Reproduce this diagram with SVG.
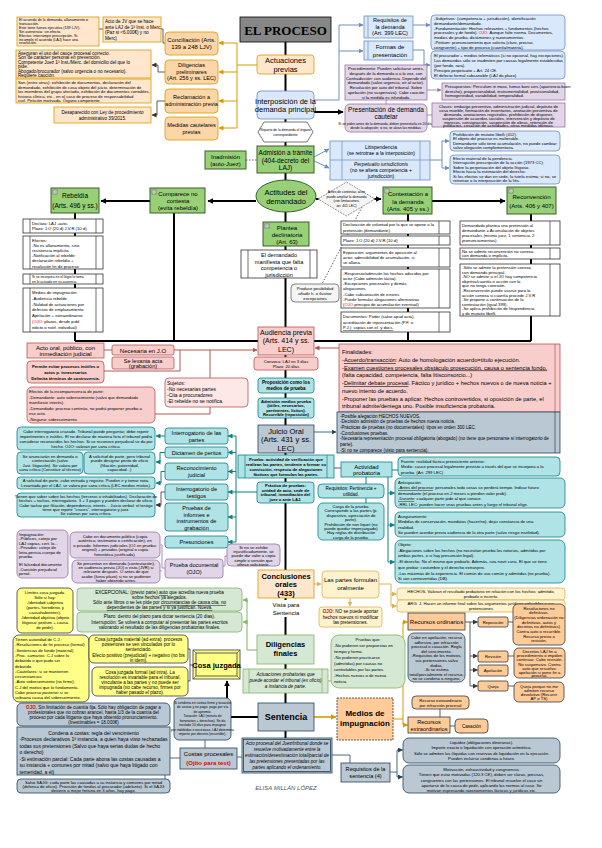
<svg xmlns="http://www.w3.org/2000/svg" width="602" height="848" viewBox="0 0 602 848">
<defs>
<style>
text{font-family:"Liberation Sans",Arial,Helvetica,sans-serif;fill:#000}
.m{text-anchor:middle}.b{font-weight:bold}.i{font-style:italic}.r{fill:#e60000}.u{text-decoration:underline}
.z3{font-size:3.4px}.z4{font-size:4.2px}.z45{font-size:4.6px}.z5{font-size:5px}.z55{font-size:5.6px}.z6{font-size:6px}.z65{font-size:6.5px}.z7{font-size:7px}.z75{font-size:7.5px}.z8{font-size:8px}.z9{font-size:9px}
rect,polygon,ellipse{stroke-width:.8}
.or{fill:#ffe6cc;stroke:#d79b00}.or2{fill:#fcd6a6;stroke:#d79b00}
.bl{fill:#dae8fc;stroke:#6c8ebf}.pu{fill:#e1d5e7;stroke:#9673a6}
.gr{fill:#97d077;stroke:#3a5f2b;stroke-width:1}.pk{fill:#f8cecc;stroke:#b85450}
.cy{fill:#b0e3e6;stroke:#0e8088}.gb{fill:#bac8d3;stroke:#23445d}
.lg{fill:#d5e8d4;stroke:#82b366}.ly{fill:#fff2cc;stroke:#d6b656}
.yy{fill:#ffff88;stroke:#36393d}.oo{fill:#ffcc99;stroke:#36393d}
.wh{fill:#fff;stroke:#333}.gy{fill:#f5f5f5;stroke:#666}
.sp{fill:none;stroke:#000;stroke-width:2}
.lo{fill:none;stroke:#d79b00;stroke-width:1}
.lb{fill:none;stroke:#6c8ebf;stroke-width:1}
.lp{fill:none;stroke:#9673a6;stroke-width:.8}
.lgry{fill:none;stroke:#333;stroke-width:.8}
.lpk{fill:none;stroke:#b85450;stroke-width:1}
.lc{fill:none;stroke:#0e8088;stroke-width:1}
.lgb{fill:none;stroke:#23445d;stroke-width:.8}
.lgn{fill:none;stroke:#82b366;stroke-width:1}
.lgd{fill:none;stroke:#d6b656;stroke-width:1}
.ld{fill:none;stroke:#36393d;stroke-width:.8}
.dot{fill:none;stroke:#555;stroke-width:.9;stroke-dasharray:1.5 1.5}
.bar{stroke-width:.7}
</style>
<marker id="ak" viewBox="0 0 10 10" refX="9" refY="5" markerWidth="6" markerHeight="6" markerUnits="userSpaceOnUse" orient="auto"><path d="M0,0L10,5L0,10z" fill="#000"/></marker>
<marker id="ao" viewBox="0 0 10 10" refX="9" refY="5" markerWidth="5" markerHeight="5" markerUnits="userSpaceOnUse" orient="auto"><path d="M0,0L10,5L0,10z" fill="#d79b00"/></marker>
<marker id="ab" viewBox="0 0 10 10" refX="9" refY="5" markerWidth="5" markerHeight="5" markerUnits="userSpaceOnUse" orient="auto"><path d="M0,0L10,5L0,10z" fill="#6c8ebf"/></marker>
<marker id="ap" viewBox="0 0 10 10" refX="9" refY="5" markerWidth="4" markerHeight="4" markerUnits="userSpaceOnUse" orient="auto"><path d="M0,0L10,5L0,10z" fill="#9673a6"/></marker>
<marker id="ag" viewBox="0 0 10 10" refX="9" refY="5" markerWidth="5" markerHeight="5" markerUnits="userSpaceOnUse" orient="auto"><path d="M0,0L10,5L0,10z" fill="#333"/></marker>
<marker id="apk" viewBox="0 0 10 10" refX="9" refY="5" markerWidth="5" markerHeight="5" markerUnits="userSpaceOnUse" orient="auto"><path d="M0,0L10,5L0,10z" fill="#b85450"/></marker>
<marker id="ac" viewBox="0 0 10 10" refX="9" refY="5" markerWidth="5" markerHeight="5" markerUnits="userSpaceOnUse" orient="auto"><path d="M0,0L10,5L0,10z" fill="#0e8088"/></marker>
<marker id="agb" viewBox="0 0 10 10" refX="9" refY="5" markerWidth="5" markerHeight="5" markerUnits="userSpaceOnUse" orient="auto"><path d="M0,0L10,5L0,10z" fill="#23445d"/></marker>
<marker id="agn" viewBox="0 0 10 10" refX="9" refY="5" markerWidth="5" markerHeight="5" markerUnits="userSpaceOnUse" orient="auto"><path d="M0,0L10,5L0,10z" fill="#82b366"/></marker>
<marker id="agd" viewBox="0 0 10 10" refX="9" refY="5" markerWidth="5" markerHeight="5" markerUnits="userSpaceOnUse" orient="auto"><path d="M0,0L10,5L0,10z" fill="#d6b656"/></marker>
<marker id="ad" viewBox="0 0 10 10" refX="9" refY="5" markerWidth="5" markerHeight="5" markerUnits="userSpaceOnUse" orient="auto"><path d="M0,0L10,5L0,10z" fill="#36393d"/></marker>
<marker id="aG" viewBox="0 0 10 10" refX="9" refY="5" markerWidth="6" markerHeight="6" markerUnits="userSpaceOnUse" orient="auto"><path d="M0,0L10,5L0,10z" fill="#d79b00"/></marker>
<g id="ic"><rect x="0" y="0" width="4" height="4" fill="#e8e8e8" stroke="#777" stroke-width=".4"/><path d="M1,2H3" stroke="#555" stroke-width=".5"/></g>
</defs>
<rect x="0" y="0" width="602" height="848" fill="#fff"/>

<g id="connectors">
<path class="sp" d="M285.5,42V738"/>
<path class="sp" d="M75,341H531"/>
<path class="sp" d="M75,213V341M174,213V341M408,214V341M531,214V341"/>
<path class="sp" d="M256,201H208" marker-end="url(#ak)"/>
<path class="sp" d="M150,201H101" marker-end="url(#ak)"/>
<path class="sp" d="M316,199H381" marker-end="url(#ak)"/>
<path class="sp" d="M432,201H505" marker-end="url(#ak)"/>
<path class="sp" d="M314,112H343" marker-end="url(#ak)"/>
<path class="dot" d="M246,160H257"/>
<path class="lo" d="M257,65H237M237,43V128"/>
<path class="lo" d="M237,43H219" marker-end="url(#ao)"/>
<path class="lo" d="M237,72H219" marker-end="url(#ao)"/>
<path class="lo" d="M237,101H219" marker-end="url(#ao)"/>
<path class="lo" d="M237,128H219" marker-end="url(#ao)"/>
<path class="lgry" d="M99,29H103M165,43H163V29H161"/>
<path class="lgry" d="M165,72H158V65H152" marker-end="url(#ag)"/>
<path class="lgry" d="M165,101H157V115H152" marker-end="url(#ag)"/>
<path class="lb" d="M314,100H339M339,25V100"/>
<path class="lb" d="M339,25H363" marker-end="url(#ab)"/>
<path class="lb" d="M339,51H363" marker-end="url(#ab)"/>
<path class="lb" d="M413,25H430" marker-end="url(#ab)"/>
<path class="lb" d="M413,50H424V65H430" marker-end="url(#ab)"/>
<path class="lp" d="M386,100V104M427,115H432"/>
<path class="lp" d="M427,90H441" marker-end="url(#ap)"/>
<path class="lb" d="M314,157L329,149" marker-end="url(#ab)"/>
<path class="lb" d="M314,161L329,168" marker-end="url(#ab)"/>
<path class="lb" d="M430,160H442M442,141V168"/>
<path class="lb" d="M442,141H449" marker-end="url(#ab)"/>
<path class="lb" d="M442,168H449" marker-end="url(#ab)"/>
<path class="dot" d="M362,207L322,284"/>
<path class="lpk" d="M104,350H112M180,350V371H104M210,350V378M155,414H210V407"/>
<path class="lpk" d="M174,350H257" marker-end="url(#apk)"/>
<path class="lpk" d="M339,348H315" marker-end="url(#apk)"/>
<path class="lgb" d="M314,432H336" marker-end="url(#agb)"/>
<path class="lc" d="M257,492H236M236,436V542"/>
<path class="lc" d="M236,436H228" marker-end="url(#ac)"/>
<path class="lc" d="M236,452.5H228" marker-end="url(#ac)"/>
<path class="lc" d="M236,471.5H228" marker-end="url(#ac)"/>
<path class="lc" d="M236,492H228" marker-end="url(#ac)"/>
<path class="lc" d="M236,517H228" marker-end="url(#ac)"/>
<path class="lc" d="M236,542H228" marker-end="url(#ac)"/>
<path class="lgry" d="M334,468H341"/>
<path class="lc" d="M392,470H398M366,477V484M366,498V503M388,477V562"/>
<path class="lc" d="M388,493H394.5" marker-end="url(#ac)"/>
<path class="lc" d="M388,525H394.5" marker-end="url(#ac)"/>
<path class="lc" d="M388,562H394.5" marker-end="url(#ac)"/>
<path class="lc" d="M165,436H156" marker-end="url(#ac)"/>
<path class="lc" d="M165,452.5H160V462H156" marker-end="url(#ac)"/>
<path class="lc" d="M165,471.5H161V483H156" marker-end="url(#ac)"/>
<path class="lgry" d="M165,492H161V505H156" marker-end="url(#ag)"/>
<path class="lp" d="M165,568H162V545H160.5M162,571H160.5M223,566H225V556H227"/>
<path class="lgd" d="M314,584H321" marker-end="url(#agd)"/>
<path class="lgd" d="M350,598V606" marker-end="url(#agd)"/>
<path class="lgd" d="M379,584H391V594H396.5" marker-end="url(#agd)"/>
<path class="lgd" d="M391,594V606H396.5" marker-end="url(#agd)"/>
<path class="lgn" d="M257,650H247V600"/>
<path class="lgn" d="M247,600H243" marker-end="url(#agn)"/>
<path class="lgn" d="M247,622H243" marker-end="url(#agn)"/>
<path class="lgn" d="M328,681H331"/>
<path class="ld" d="M193,665H190V649H188M190,665V681H188"/>
<path class="sp" d="M258,717H231"/>
<path class="sp" d="M227,698V681" marker-end="url(#ak)"/>
<path d="M314,717H336" fill="none" stroke="#d79b00" stroke-width="1.6" marker-end="url(#aG)"/>
<path class="lo" d="M393,719H403V622"/>
<path class="lo" d="M403,622H407.5" marker-end="url(#ao)"/>
<path class="lo" d="M403,719V725H407.5" marker-end="url(#ao)"/>
<path class="ld" d="M465,622H470V686M508,622H513M508,656H514M508,686H514M440,709V717M450,726H455"/>
<path class="ld" d="M470,622H477.5" marker-end="url(#ad)"/>
<path class="ld" d="M470,656H477.5" marker-end="url(#ad)"/>
<path class="ld" d="M470,670H477.5" marker-end="url(#ad)"/>
<path class="ld" d="M470,686H477.5" marker-end="url(#ad)"/>
<path class="lgb" d="M237,757H242M205,748V740M180,758H170M165,775V779M332,755H350V763"/>
<path class="lgb" d="M390,772H397V750H402.5" marker-end="url(#agb)"/>
<path class="lgb" d="M397,772V777H402.5" marker-end="url(#agb)"/>
</g>

<g id="title"><rect x="240" y="17" width="91" height="25" fill="#878787" stroke="#000" stroke-width="1"/><text x="285.5" y="34.5" class="m b" style="font-family:'Liberation Serif','Times New Roman',serif;font-size:13px">EL PROCESO</text></g>

<g id="actuaciones-previas"><rect x="257" y="55" width="57" height="19" rx="3" class="or"/><text class="m z75"><tspan x="285.5" y="63">Actuaciones</tspan><tspan x="285.5" y="71.5">previas</tspan></text></g>

<g id="interposicion"><rect x="257" y="91" width="57" height="28" rx="4" class="bl"/><text class="m z75"><tspan x="285.5" y="103.5">Interposición de la</tspan><tspan x="285.5" y="112">demanda principal</tspan></text></g>

<g id="reparto"><polygon points="258,132 264,122 307,122 313,132 307,142 264,142" fill="#fff" stroke="#555"/><text class="m z3"><tspan x="285.5" y="131">Reparto de la demanda al órgano</tspan><tspan x="285.5" y="135.5">correspondiente</tspan></text></g>

<g id="admision"><rect x="257" y="146" width="57" height="27" class="gr"/><text class="m z65"><tspan x="285.5" y="155">Admisión a trámite</tspan><tspan x="285.5" y="162.5">(404-decreto del</tspan><tspan x="285.5" y="170">LAJ)</tspan></text></g>

<g id="inadmision"><rect x="205" y="151" width="41" height="18" class="gr"/><text class="m z6"><tspan x="225.5" y="158.5">Inadmisión</tspan><tspan x="225.5" y="165.5">(auto-Juez)</tspan></text></g>

<g id="requisitos-demanda"><rect x="364" y="16" width="49" height="22" class="bl"/><path d="M368,16V38" stroke="#6c8ebf" class="bar"/><text class="m z55"><tspan x="390" y="22">Requisitos de</tspan><tspan x="390" y="28.5">la demanda</tspan><tspan x="390" y="35">(Art. 399 LEC)</tspan></text></g>

<g id="formas"><rect x="364" y="41" width="49" height="19" class="bl"/><path d="M368,41V60" stroke="#6c8ebf" class="bar"/><text class="m z6"><tspan x="390" y="49">Formas de</tspan><tspan x="390" y="56.5">presentación</tspan></text></g>

<g id="subjetivos"><rect x="431" y="15" width="134" height="35" rx="4" class="bl"/><text class="z4"><tspan x="434" y="20">-Subjetivos: (competencia + jurisdicción), identificación</tspan><tspan x="434" y="24.8">demandante/demandado.</tspan><tspan x="434" y="29.6">-Fundamentación: Hechos relevantes + fundamentos (hechos</tspan><tspan x="434" y="34.4">procesales y de fondo). <tspan class="r">OJO</tspan>. Aunque falte norma. Documentos,</tspan><tspan x="434" y="39.2">medios de prueba, dictámenes y razonamientos.</tspan><tspan x="434" y="44">-Petitum: pronunciamiento que solicita (claro, preciso,</tspan><tspan x="434" y="48.8">congruente) + tipo de proceso (cuantía/materia).</tspan></text></g>

<g id="procurador"><rect x="431" y="51" width="134" height="28" rx="4" class="bl"/><text class="z4"><tspan x="434" y="56.5">El procurador + medios telemáticos (si no opcional, hay excepciones).</tspan><tspan x="434" y="61.5">Las demandas sólo se inadmiten por causas legalmente establecidas</tspan><tspan x="434" y="66.5">(por fondo, rara).</tspan><tspan x="434" y="71.5">Principio perpetuatio + Art. 24 CE.</tspan><tspan x="434" y="76.5">El defecto formal subsanable (LAJ da plazo).</tspan></text></g>

<g id="procedimiento-cautelar"><rect x="345" y="65" width="82" height="35" class="pu"/><text class="m z4"><tspan x="386" y="70">Procedimiento: Pueden solicitarse antes,</tspan><tspan x="386" y="74.8">después de la demanda o a la vez, con</tspan><tspan x="386" y="79.6">Contradicción: con audiencia. Depende del</tspan><tspan x="386" y="84.4">demandado (salvo urgencia, oír al actor).</tspan><tspan x="386" y="89.2">Resolución por auto del tribunal. Sobre</tspan><tspan x="386" y="94">apelación (no suspensiva). Cabe caución</tspan><tspan x="386" y="98.8">si la medida es infundada.</tspan></text></g>

<g id="demanda-cautelar"><rect x="345" y="104" width="82" height="28" rx="5" class="pu"/><text class="m z65"><tspan x="386" y="112">Presentación de demanda</tspan><tspan x="386" y="119">cautelar</tspan></text><text class="m z3"><tspan x="386" y="124.5">Si se piden antes de la demanda, deben presentarla en 20 días</tspan><tspan x="386" y="129">desde la adopción; si no, se alzan las medidas.</tspan></text></g>

<g id="presupuestos"><rect x="442" y="83" width="123" height="17" class="pu"/><text class="z4"><tspan x="445" y="88">Presupuestos: Periculum in mora, fumus boni iuris (apariencia buen</tspan><tspan x="445" y="92.5">derecho), proporcionalidad, instrumentalidad, provisionalidad,</tspan><tspan x="445" y="97">homogeneidad, variabilidad, temporalidad.</tspan></text></g>

<g id="clases"><rect x="432" y="103" width="133" height="24" class="pu"/><text class="m z4"><tspan x="498.5" y="107.5">Clases: embargo preventivo, administración judicial, depósito de</tspan><tspan x="498.5" y="111.5">cosa mueble, formación de inventarios, anotación preventiva de</tspan><tspan x="498.5" y="115.5">demanda, anotaciones registrales, prohibición de disponer,</tspan><tspan x="498.5" y="119.5">suspensión de acuerdos sociales, intervención y depósito de</tspan><tspan x="498.5" y="123.5">ingresos, consignación, suspensión de obras, retención de</tspan><tspan x="498.5" y="127">productos, cesación de actividades, otras medidas idóneas.</tspan></text></g>

<g id="litispendencia"><rect x="330" y="141" width="100" height="39" class="bl"/><path d="M342,141V180M420,141V180M330,160H430" stroke="#6c8ebf" class="bar"/><text class="m z5"><tspan x="381" y="148.5">Litispendencia</tspan><tspan x="381" y="155">(se retrotrae a la interposición)</tspan></text><text class="m z5"><tspan x="381" y="166" class="i">Perpetuatio iurisdictionis</tspan><tspan x="381" y="172">(no se altera competencia +</tspan><tspan x="381" y="178">jurisdicción)</tspan></text></g>

<g id="mutatio"><rect x="450" y="131" width="110" height="20" rx="4" class="bl"/><text class="z4"><tspan x="453" y="136">Prohibición de mutatio libelli (412).</tspan><tspan x="453" y="140.4">El objeto del proceso es inalterable.</tspan><tspan x="453" y="144.8">Demandante sólo tiene acumulación, no puede cambiar</tspan><tspan x="453" y="149.2">salvo alegación complementaria.</tspan></text></g>

<g id="efecto-material"><rect x="450" y="155" width="110" height="29" rx="4" class="bl"/><text class="z4"><tspan x="453" y="160">Efecto material de la pendencia.</tspan><tspan x="453" y="164.4">Interrupción prescripción de la acción (1973 CC).</tspan><tspan x="453" y="168.8">Sobre la perpetuación del objeto litigioso.</tspan><tspan x="453" y="173.2">Efecto hacia la estimación del derecho.</tspan><tspan x="453" y="177.6">Si los efectos se dan en sede, la tutela estima; si no, se</tspan><tspan x="453" y="182">retrotrae a la interposición de la litis.</tspan></text></g>

<g id="conciliacion"><rect x="165" y="32" width="53" height="23" rx="4" class="or2"/><text class="m z6"><tspan x="191.5" y="41.5">Conciliación (Arts.</tspan><tspan x="191.5" y="49">139 a 248 LJV)</tspan></text></g>
<g id="diligencias-preliminares"><rect x="165" y="60" width="53" height="24" rx="4" class="or2"/><text class="m z55"><tspan x="191.5" y="67">Diligencias</tspan><tspan x="191.5" y="73.5">preliminares</tspan><tspan x="191.5" y="80">(Art. 256 y ss. LEC)</tspan></text></g>
<g id="reclamacion"><rect x="165" y="89" width="53" height="24" rx="4" class="or2"/><text class="m z55"><tspan x="191.5" y="99">Reclamación a</tspan><tspan x="191.5" y="106">administración previa</tspan></text></g>
<g id="medidas-previas"><rect x="165" y="117" width="53" height="23" rx="4" class="or2"/><text class="m z55"><tspan x="191.5" y="127">Medidas cautelares</tspan><tspan x="191.5" y="134">previas</tspan></text></g>

<g id="acuerdo"><rect x="17" y="17" width="82" height="29" class="or"/><text style="font-size:3.7px"><tspan x="19" y="21">El acuerdo de la demanda, allanamiento o</tspan><tspan x="19" y="24.9">transacción.</tspan><tspan x="19" y="28.8">Este tiene fuerza ejecutiva (139 LJV).</tspan><tspan x="19" y="32.7">Sin avenencia: sin efecto.</tspan><tspan x="19" y="36.6">Efectos: interrumpe prescripción. Si</tspan><tspan x="19" y="40.5">incumple el acuerdo (LAJ) hace una</tspan><tspan x="19" y="44.4">resolución.</tspan></text></g>
<g id="acto-jv"><rect x="103" y="17" width="58" height="25" class="or"/><text class="z45"><tspan x="105" y="23">Acto de JV que se hace</tspan><tspan x="105" y="28.5">ante LAJ de 1ª Inst. o Merc.</tspan><tspan x="105" y="34">(Paz si &lt;6.000€) y no</tspan><tspan x="105" y="39.5">Merc)</tspan></text></g>
<g id="aseguran"><rect x="16" y="50" width="135" height="28" class="or"/><text class="z45"><tspan x="18" y="55">Aseguran el uso del cauce procesal correcto.</tspan><tspan x="18" y="59.4">Son de carácter personal en prevención.</tspan><tspan x="18" y="63.8">Competente Juez 1ª Inst./Merc. del domicilio del que lo</tspan><tspan x="18" y="68.2">pide.</tspan><tspan x="18" y="72.6">Abogado/procurador (salvo urgencia o no necesario).</tspan><tspan x="18" y="77">Requiere caución.</tspan></text></g>
<g id="son-entre-otras"><rect x="16" y="79" width="135" height="24" class="or"/><text class="z4"><tspan x="18" y="84">Son (entre otras): exhibición de documentos, declaración del</tspan><tspan x="18" y="88.5">demandado, exhibición de cosa objeto del juicio, determinación de</tspan><tspan x="18" y="93">los miembros del grupo afectado, exhibición de documentos contables,</tspan><tspan x="18" y="97.5">historia clínica, etc., en el caso de proceso de responsabilidad</tspan><tspan x="18" y="102">civil. Petición motivada. Órgano competente.</tspan></text></g>
<g id="desaparecido"><rect x="54" y="107" width="97" height="16" class="or"/><text class="m z45"><tspan x="102.5" y="113.5">Desaparecido con Ley de procedimiento</tspan><tspan x="102.5" y="119.5">administrativo 39/2015.</tspan></text></g>

<g id="actitudes"><ellipse cx="286" cy="196" rx="30" ry="16" class="gr"/><text class="m z75"><tspan x="286" y="194.5">Actitudes del</tspan><tspan x="286" y="204">demandado</tspan></text></g>

<g id="comparece"><rect x="150" y="188" width="55" height="25" class="gr"/><use href="#ic" x="152" y="190"/><text class="m z6"><tspan x="178" y="196">Comparece no</tspan><tspan x="178" y="203">contesta</tspan><tspan x="178" y="210">(evita rebeldía)</tspan></text></g>
<g id="rebeldia"><rect x="51" y="188" width="48" height="25" class="gr"/><use href="#ic" x="53" y="190"/><text class="m z65"><tspan x="75" y="198">Rebeldía</tspan><tspan x="75" y="207.5">(Arts. 496 y ss.)</tspan></text></g>

<g id="ampliar"><polygon points="318,199 346.5,182 375,199 346.5,216" fill="#f5f5f5" stroke="#777" stroke-dasharray="2 1"/><text class="m z3"><tspan x="346.5" y="193">Antes de contestar, actor</tspan><tspan x="346.5" y="197.5">puede ampliar la demanda</tspan><tspan x="346.5" y="202">(con limitaciones,</tspan><tspan x="346.5" y="206.5">art. 401 LEC)</tspan></text></g>

<g id="contestacion"><rect x="383" y="187" width="49" height="27" class="gr"/><use href="#ic" x="385" y="189"/><text class="m z6"><tspan x="408" y="196">Contestación a</tspan><tspan x="408" y="203.5">la demanda</tspan><tspan x="408" y="211">(Arts. 405 y ss.)</tspan></text></g>
<g id="reconvencion"><rect x="507" y="187" width="49" height="27" class="gr"/><use href="#ic" x="509" y="189"/><text class="m z6"><tspan x="531.5" y="198.5">Reconvención</tspan><tspan x="531.5" y="207.5">(Arts. 406 y 407)</tspan></text></g>

<g id="declinatoria"><rect x="263" y="222" width="46" height="24" class="gr"/><use href="#ic" x="265" y="224"/><text class="m z6"><tspan x="287" y="229.5">Plantea</tspan><tspan x="287" y="236.5">declinatoria</tspan><tspan x="287" y="243.5">(Art. 63)</tspan></text></g>
<g id="falta-competencia"><rect x="241" y="250" width="76" height="28" class="wh"/><path d="M248,250V278M310,250V278" stroke="#333" class="bar"/><text class="m z55"><tspan x="279" y="257">El demandado</tspan><tspan x="279" y="263.5">manifiesta que falta</tspan><tspan x="279" y="270">competencia o</tspan><tspan x="279" y="276.5">jurisdicción</tspan></text></g>
<g id="produce"><rect x="291" y="284" width="48" height="18" rx="4" class="gy"/><text class="m z4"><tspan x="315" y="290">Produce posibilidad</tspan><tspan x="315" y="295">añadir h. o ilustrar</tspan><tspan x="315" y="300">excepciones</tspan></text></g>

<g id="rebeldia-declara"><rect x="23" y="219" width="80" height="14" class="wh"/><path d="M30,219V233M96,219V233" stroke="#333" class="bar"/><text class="z4"><tspan x="32" y="224.5">Declara: LAJ -auto-</tspan><tspan x="32" y="230">Plazo: J.O (20 d) J.V.R (10 d)</tspan></text></g>
<g id="rebeldia-efectos"><rect x="23" y="236" width="80" height="33" class="wh"/><path d="M30,236V269M96,236V269" stroke="#333" class="bar"/><text class="z4"><tspan x="32" y="241.5">Efectos:</tspan><tspan x="32" y="246.7">-No es allanamiento, sino</tspan><tspan x="32" y="251.9">resistencia implícita</tspan><tspan x="32" y="257.1">-Notificación al rebelde:</tspan><tspan x="32" y="262.3">declaración rebeldía +</tspan><tspan x="32" y="267.5">resolución fin de proceso</tspan></text></g>
<g id="rebeldia-incorpora"><rect x="23" y="274" width="80" height="10" class="wh"/><path d="M30,274V284M96,274V284" stroke="#333" class="bar"/><text class="z3"><tspan x="32" y="278.2">Si se incorpora en el litigio lo toma</tspan><tspan x="32" y="282.6">en lo actuado en su ausencia.</tspan></text></g>
<g id="rebeldia-medios"><rect x="23" y="288" width="80" height="44" class="wh"/><path d="M30,288V332M96,288V332" stroke="#333" class="bar"/><text class="z4"><tspan x="32" y="294">Medios de impugnación:</tspan><tspan x="32" y="299.8">-Audiencia rebelde</tspan><tspan x="32" y="305.6">-Nulidad de actuaciones por</tspan><tspan x="32" y="311.4">defectos de emplazamiento.</tspan><tspan x="32" y="317.2">Apelación + extraordinarios</tspan><tspan x="32" y="323"><tspan class="r">(OJO</tspan>: plazos, desde publ.</tspan><tspan x="32" y="328.8">edicto o notif. individual)</tspan></text></g>

<g id="contestacion-1"><rect x="341" y="221" width="109" height="13" class="wh"/><path d="M439,221V234" stroke="#333" class="bar"/><text class="z4"><tspan x="343" y="226">Declaración de voluntad por la que se opone a la</tspan><tspan x="343" y="231.5">pretensión (demandante).</tspan></text></g>
<g id="contestacion-2"><rect x="341" y="236" width="109" height="9" class="wh"/><path d="M439,236V245" stroke="#333" class="bar"/><text class="z4"><tspan x="343" y="242">Plazo: J.O (20 d) J.V.R (10 d)</tspan></text></g>
<g id="contestacion-3"><rect x="341" y="248" width="109" height="19" class="wh"/><path d="M439,248V267" stroke="#333" class="bar"/><text class="z4"><tspan x="343" y="253.5">Exposición: argumentos de oposición al</tspan><tspan x="343" y="258.8">actor, admisibilidad de acumulación, si</tspan><tspan x="343" y="264.1">se allana.</tspan></text></g>
<g id="contestacion-4"><rect x="341" y="269" width="109" height="39" class="wh"/><path d="M439,269V308" stroke="#333" class="bar"/><text class="z4"><tspan x="343" y="274.5">-Respuesta/admisión los hechos aducidos por</tspan><tspan x="343" y="279.8">actor (Cabe admisión tácita).</tspan><tspan x="343" y="285.1">-Excepciones procesales y demás</tspan><tspan x="343" y="290.4">alegaciones.</tspan><tspan x="343" y="295.7">-Cabe subsanación de errores</tspan><tspan x="343" y="301">-Puede formular alegaciones alternativas</tspan><tspan x="343" y="306.3">(<tspan class="r">OJO</tspan> principio de acumulación eventual)</tspan></text></g>
<g id="contestacion-5"><rect x="341" y="312" width="109" height="20" class="wh"/><path d="M439,312V332" stroke="#333" class="bar"/><text class="z4"><tspan x="343" y="318">Documentos: Poder (salvo apud acta),</tspan><tspan x="343" y="323.5">acreditación de representación (P.F. o</tspan><tspan x="343" y="329" class="u">P.J.); copias con el. y docs.</tspan></text></g>

<g id="reconvencion-1"><rect x="460" y="221" width="100" height="24" class="wh"/><path d="M550,221V245" stroke="#333" class="bar"/><text class="z4"><tspan x="462" y="227">Demandado plantea una pretensión al</tspan><tspan x="462" y="232">demandante = Acumulación de objetos</tspan><tspan x="462" y="237">procesales (mismo juez, 1 sentencia, 2</tspan><tspan x="462" y="242">pronunciamientos).</tspan></text></g>
<g id="reconvencion-2"><rect x="460" y="248" width="100" height="11" class="wh"/><path d="M550,248V259" stroke="#333" class="bar"/><text class="z4"><tspan x="462" y="252.7">No se admite reconvención no conexa</tspan><tspan x="462" y="257.4">con demanda o implícita.</tspan></text></g>
<g id="reconvencion-3"><rect x="460" y="264" width="100" height="52" class="wh"/><path d="M550,264V316" stroke="#333" class="bar"/><text class="z4"><tspan x="462" y="269">-Sólo se admite la pretensión conexa</tspan><tspan x="462" y="273.6">con demanda principal.</tspan><tspan x="462" y="278.2">-NO se admite si el JO hay competencia</tspan><tspan x="462" y="282.8">objetiva/cuantía o acción con la</tspan><tspan x="462" y="287.4">que no tenga conexión.</tspan><tspan x="462" y="292">-Reconvención puede usarse para la</tspan><tspan x="462" y="296.6">acción conexa si cuantía procede J.V.R</tspan><tspan x="462" y="301.2">-Se propone a continuación de la</tspan><tspan x="462" y="305.8">contestación (igual 399).</tspan><tspan x="462" y="310.4">-Se aplica prohibición de litispendencia</tspan><tspan x="462" y="315">y de mutatio libelli.</tspan></text></g>

<g id="audiencia-previa"><rect x="258" y="327" width="56" height="28" class="pk"/><text class="m z7"><tspan x="286" y="334.5">Audiencia previa</tspan><tspan x="286" y="343">(Arts. 414 y ss.</tspan><tspan x="286" y="351.5">LEC)</tspan></text></g>
<g id="convoca"><rect x="254" y="357" width="64" height="13" rx="3" class="pk"/><text class="m z4"><tspan x="286" y="362.5">Convoca: LAJ en 3 días</tspan><tspan x="286" y="368">Plazo: 20 días</tspan></text></g>
<g id="acto-oral"><rect x="27" y="343" width="77" height="15" class="pk"/><text class="m z6"><tspan x="65.5" y="349.5">Acto oral, público, con</tspan><tspan x="65.5" y="356">inmediación judicial</tspan></text></g>
<g id="necesaria"><rect x="112" y="345" width="62" height="10" rx="2" class="pk"/><text class="m z6"><tspan x="143" y="352.5">Necesaria en J.O</tspan></text></g>
<g id="levanta-acta"><rect x="112" y="357" width="62" height="12" rx="2" class="pk"/><text class="m z55"><tspan x="143" y="362.5">Se levanta acta</tspan><tspan x="143" y="368">(grabación)</tspan></text></g>
<g id="permite"><rect x="27" y="361" width="77" height="22" rx="4" class="pk"/><text class="m z4 b"><tspan x="65.5" y="368">Permite evitar procesos inútiles o</tspan><tspan x="65.5" y="373.5">actos p. innecesarios</tspan><tspan x="65.5" y="379.5">Delimita términos de controversia.</tspan></text></g>
<g id="sujetos"><rect x="165" y="378" width="83" height="29" rx="4" fill="#fde8e7" stroke="#b85450"/><text class="z5"><tspan x="167" y="384.5">Sujetos:</tspan><tspan x="167" y="390.8">-No necesarias partes</tspan><tspan x="167" y="397.1">-Cita a procuradores</tspan><tspan x="167" y="403.4">-El rebelde no se notifica.</tspan></text></g>
<g id="incomparecencia"><rect x="27" y="387" width="128" height="36" rx="5" class="pk"/><text class="z4"><tspan x="29" y="393">Efectos de la incomparecencia de parte:</tspan><tspan x="29" y="398.5">-Demandante: auto sobreseimiento (salvo que demandado</tspan><tspan x="29" y="404">manifieste interés).</tspan><tspan x="29" y="409.5">-Demandado: proceso continúa, no podrá proponer prueba a</tspan><tspan x="29" y="415">ese acto.</tspan><tspan x="29" y="420.5">-Ninguno: sobreseimiento</tspan></text></g>

<g id="finalidades"><rect x="339" y="344" width="221" height="68" class="pk"/><path d="M555,344V412" stroke="#b85450" class="bar"/><text style="font-size:5.7px"><tspan x="342" y="354">Finalidades:</tspan><tspan x="342" y="362">-<tspan class="u">Acuerdo/transacción</tspan>: Auto de homologación acuerdo=título ejecución.</tspan><tspan x="342" y="369.5">-<tspan class="u">Examen cuestiones procesales obstáculo prosecución, causa o sentencia fondo.</tspan></tspan><tspan x="342" y="377">(falta capacidad, competencia, falta litisconsorcio...)</tspan><tspan x="342" y="385">-<tspan class="u">Delimitar debate procesal</tspan>. Fáctico y jurídico + hechos nuevos o de nueva noticia +</tspan><tspan x="342" y="392.5">nuevo intento de acuerdo.</tspan><tspan x="342" y="400.5">-Proponer las pruebas a aplicar. Hechos controvertidos, si oposición de parte, el</tspan><tspan x="342" y="408">tribunal admite/deniega uno. Posible insuficiencia probatoria.</tspan></text></g>

<g id="proposicion"><rect x="258" y="378" width="56" height="15" rx="3" class="cy"/><text class="m z45 b"><tspan x="286" y="384">Proposición como los</tspan><tspan x="286" y="390">medios de prueba</tspan></text></g>
<g id="admision-medios"><rect x="258" y="398" width="56" height="20" rx="3" class="cy"/><text class="m z4 b"><tspan x="286" y="402.8">Admisión medios prueba</tspan><tspan x="286" y="407.2">(útiles, necesarios,</tspan><tspan x="286" y="411.6">pertinentes, lícitos).</tspan><tspan x="286" y="416">Recurrible (reposición)</tspan></text></g>

<g id="juicio-oral"><rect x="258" y="425" width="56" height="28" class="gb"/><text class="m z75"><tspan x="286" y="433.5">Juicio Oral</tspan><tspan x="286" y="442">(Arts. 431 y ss.</tspan><tspan x="286" y="450.5">LEC)</tspan></text></g>
<g id="juicio-oral-detalle"><rect x="337" y="412" width="223" height="41" class="gb"/><path d="M555,412V453" stroke="#23445d" class="bar"/><text class="z45"><tspan x="340" y="417.5">-Posible alegación HECHOS NUEVOS.</tspan><tspan x="340" y="423.2">-Decisión admisión de pruebas de hechos nueva noticia.</tspan><tspan x="340" y="428.9">-Prácticas de pruebas (no documentales): tipos en orden 300 LEC.</tspan><tspan x="340" y="434.6">-Conclusiones pruebas.</tspan><tspan x="340" y="440.3">-Necesaria representación procesal obligatoria (abogado) (no tiene que personarse si interrogatorio de</tspan><tspan x="340" y="446">parte).</tspan><tspan x="340" y="451.7">-Si no se comparece (visto para sentencia).</tspan></text></g>

<g id="prueba"><rect x="238" y="455" width="96" height="23" class="cy"/><path d="M245,455V478M327,455V478" stroke="#0e8088" class="bar"/><text class="m z4 b"><tspan x="286" y="460.5">Prueba: actividad de verificación que</tspan><tspan x="286" y="465.5">realizan las partes, tendente a formar su</tspan><tspan x="286" y="470.5">convicción, respecto de alegaciones</tspan><tspan x="286" y="475.5">fácticas que formulan las partes.</tspan></text></g>
<g id="practica"><rect x="257" y="482" width="57" height="21" rx="3" class="cy"/><text class="m z4 b"><tspan x="285.5" y="487">Práctica de pruebas:</tspan><tspan x="285.5" y="491.5">unidad de acto, sede de</tspan><tspan x="285.5" y="496">tribunal, inmediación del</tspan><tspan x="285.5" y="500.5">juez o ante LAJ.</tspan></text></g>
<g id="actividad-probatoria"><rect x="341" y="462" width="51" height="15" class="cy"/><text class="m z6"><tspan x="366.5" y="468.5">Actividad</tspan><tspan x="366.5" y="475">probatoria</tspan></text></g>
<g id="requisitos-prueba"><rect x="318" y="484" width="66" height="14" rx="4" class="cy"/><text class="m z45"><tspan x="351" y="490">Requisitos: Pertinencia +</tspan><tspan x="351" y="496">utilidad.</tspan></text></g>
<g id="carga"><rect x="318" y="503" width="66" height="37" rx="5" class="cy"/><text class="m z4"><tspan x="351" y="508">Carga de la prueba.</tspan><tspan x="351" y="512.4">Corresponde a las partes (p.</tspan><tspan x="351" y="516.8">dispositivo, apreciación de</tspan><tspan x="351" y="521.2">parte).</tspan><tspan x="351" y="525.6">Prohibición de non liquet (no</tspan><tspan x="351" y="530">puede quedar imprejuzgado)</tspan><tspan x="351" y="534.4">Hay reglas de distribución</tspan><tspan x="351" y="538.8">carga de la prueba.</tspan></text></g>
<g id="fuente"><rect x="398" y="457" width="162" height="19" rx="4" class="cy"/><text class="z4"><tspan x="401" y="462.5">Fuente: realidad fáctica preexistente anterior.</tspan><tspan x="401" y="468">Medio: cauce procesal legalmente previsto a través del que se incorpora a la</tspan><tspan x="401" y="473.5">prueba. (Art. 299 LEC)</tspan></text></g>
<g id="anticipacion"><rect x="395" y="478" width="170" height="30" rx="5" class="cy"/><text class="z4"><tspan x="398" y="483.5">Anticipación:</tspan><tspan x="398" y="489"><tspan class="u">-Antes del proceso</tspan>: personales todo cosas se perderá tiempo. Indicar futuro</tspan><tspan x="398" y="494.5">demandante (el proceso en 2 meses o pierden valor prob).</tspan><tspan x="398" y="500"><tspan class="u">-Durante</tspan>: cualquier parte pide al que conoce.</tspan><tspan x="398" y="505.5">-RRL LEC: pueden hacer unas pruebas antes y luego el tribunal elige.</tspan></text></g>
<g id="aseguramiento"><rect x="395" y="512" width="170" height="25" rx="5" class="cy"/><text class="z4"><tspan x="398" y="517.5">Aseguramiento:</tspan><tspan x="398" y="523">Medidas de conservación, mandatos (hacer/no), dejar constancia de una</tspan><tspan x="398" y="528.5">realidad.</tspan><tspan x="398" y="534">Se pueden acordar previa audiencia de la otra parte (salvo riesgo inutilidad).</tspan></text></g>
<g id="objeto"><rect x="395" y="540" width="170" height="43" rx="6" class="cy"/><text class="z4"><tspan x="398" y="546">Objeto:</tspan><tspan x="398" y="551.7">-Alegaciones sobre los hechos (no necesitan prueba los notorios, admitidos por</tspan><tspan x="398" y="557.4">ambas partes, o si hay presunción legal).</tspan><tspan x="398" y="563.1">-El derecho. No el mismo que probarlo. Además, iura novit curia. El que se tiene</tspan><tspan x="398" y="568.8">que probar: costumbre y el derecho extranjero.</tspan><tspan x="398" y="574.5">-Las máximas de la experiencia. El común de uso común y admitidas (no prueba).</tspan><tspan x="398" y="580.2">Si son controvertidas (DB).</tspan></text></g>

<g id="interrogatorio-partes"><rect x="165" y="428" width="63" height="16" rx="3" class="cy"/><text class="m z55"><tspan x="196.5" y="434.5">Interrogatorio de las</tspan><tspan x="196.5" y="441.5">partes</tspan></text></g>
<g id="dictamen"><rect x="165" y="447" width="63" height="11" rx="3" class="cy"/><text class="m z55"><tspan x="196.5" y="454.5">Dictamen de peritos</tspan></text></g>
<g id="reconocimiento"><rect x="165" y="463" width="63" height="17" rx="3" class="cy"/><text class="m z55"><tspan x="196.5" y="470">Reconocimiento</tspan><tspan x="196.5" y="477">judicial</tspan></text></g>
<g id="interrogatorio-testigos"><rect x="165" y="484" width="63" height="16" rx="3" class="cy"/><text class="m z55"><tspan x="196.5" y="490.5">Interrogatorio de</tspan><tspan x="196.5" y="497.5">testigos</tspan></text></g>
<g id="informes"><rect x="165" y="503" width="63" height="28" rx="3" class="cy"/><text class="m z55"><tspan x="196.5" y="510">Pruebas de</tspan><tspan x="196.5" y="516.5">informes e</tspan><tspan x="196.5" y="523">instrumentos de</tspan><tspan x="196.5" y="529.5">grabación</tspan></text></g>
<g id="presunciones"><rect x="165" y="536" width="63" height="12" rx="3" class="cy"/><text class="m z55"><tspan x="196.5" y="544">Presunciones</tspan></text></g>
<g id="prueba-documental"><rect x="165" y="559" width="58" height="19" rx="3" class="pu"/><text class="m z55"><tspan x="194" y="566.5">Prueba documental</tspan><tspan x="194" y="574">(OJO)</tspan></text></g>

<g id="cruzado"><rect x="17" y="427" width="138" height="23" rx="4" class="cy"/><text class="m z4"><tspan x="86" y="432.5">Cabe interrogatorio cruzado. Tribunal puede preguntar, debe repetir</tspan><tspan x="86" y="437.5">impertinentes e inútiles. El no declarar de manera ficta el tribunal podrá</tspan><tspan x="86" y="442.5">considerar reconocidos los hechos. Si se reconoce perjudicial se da por</tspan><tspan x="86" y="447.5">hecho. OJO: valoran por sana crítica.</tspan></text></g>
<g id="peritos-a"><rect x="17" y="452" width="66" height="22" rx="4" class="cy"/><text class="m z4"><tspan x="50" y="457.5">Se anunciarán en demanda o</tspan><tspan x="50" y="462">contestación (salvo</tspan><tspan x="50" y="466.5">Just. litigación). Se valora por</tspan><tspan x="50" y="471">sana crítica (Constituir al técnico)</tspan></text></g>
<g id="peritos-b"><rect x="84" y="452" width="71" height="22" rx="4" class="cy"/><text class="m z4"><tspan x="119.5" y="457.5">A solicitud de parte, pero tribunal</tspan><tspan x="119.5" y="462">puede designar perito de oficio</tspan><tspan x="119.5" y="466.5">(filiación, paternidad,</tspan><tspan x="119.5" y="471">capacidad...)</tspan></text></g>
<g id="reconocimiento-detalle"><rect x="17" y="477" width="138" height="12" rx="3" class="cy"/><text class="m z4"><tspan x="86" y="482">A solicitud de parte, cabe entrada y registro. Pueden ir y tomar nota.</tspan><tspan x="86" y="487">Levantada por el LAJ, se valora por sana crítica (LEC medios mixtos).</tspan></text></g>
<g id="testigos-detalle"><rect x="17" y="493" width="138" height="24" rx="4" class="cy"/><text class="m z4"><tspan x="86" y="498">Tienen que saber sobre los hechos (terceros o inhabilitados). Declaración de</tspan><tspan x="86" y="502.3">hechos + tachas, interrogatorio. 3 + 3 pagos y pueden declarar de oficio.</tspan><tspan x="86" y="506.6">Cabe tachar por filiación, dependencia, interés... Juicio verbal: el testigo</tspan><tspan x="86" y="510.9">tiene que repetir "cruces", interrogatorio y juez.</tspan><tspan x="86" y="515.2">Se valoran por sana crítica.</tspan></text></g>

<g id="impugnacion-doc"><rect x="17" y="530" width="51" height="48" rx="5" class="pu"/><text class="z4"><tspan x="19" y="535.5">Impugnación:</tspan><tspan x="19" y="540">-Públicos, cotejo por</tspan><tspan x="19" y="544.5">LAJ copias, cert. lo...</tspan><tspan x="19" y="549">-Privados: cotejo de</tspan><tspan x="19" y="553.5">letra-pericia-cuerpo de</tspan><tspan x="19" y="558">prueba.</tspan><tspan x="19" y="566">El falsedad documento</tspan><tspan x="19" y="570.5">-Cuestión prejudicial</tspan><tspan x="19" y="575">penal.</tspan></text></g>
<g id="documento-publico"><rect x="70" y="532" width="90" height="26" rx="5" class="pu"/><text class="m z4"><tspan x="115" y="537.5">Cabe en documento público (copia</tspan><tspan x="115" y="542">auténtica, testimonio o certificación), en</tspan><tspan x="115" y="546.5">o privado. Informes judiciales (OJ en prueba:</tspan><tspan x="115" y="551">original) + privados (original o copia</tspan><tspan x="115" y="555.5">fotostática justificada).</tspan></text></g>
<g id="presentacion-doc"><rect x="72" y="560" width="88" height="23" rx="5" class="pu"/><text class="m z4"><tspan x="116" y="565">Se presentan en demanda (contestación),</tspan><tspan x="116" y="569.2">en audiencia previa (JO) o vista (JVR) si</tspan><tspan x="116" y="573.4">relevante después. O antes de que</tspan><tspan x="116" y="577.6">acabe (fuera plazo) si no se pudieron</tspan><tspan x="116" y="581.8">haber obtenido antes.</tspan></text></g>
<g id="no-exhibe"><rect x="227" y="544" width="53" height="22" rx="4" class="pu"/><text class="m z4"><tspan x="253.5" y="549">Si no se exhibe</tspan><tspan x="253.5" y="553.2">injustificadamente, se</tspan><tspan x="253.5" y="557.4">puede dar valor a copia</tspan><tspan x="253.5" y="561.6">simple o versión que</tspan><tspan x="253.5" y="565.6">ofrece solicitante.</tspan></text></g>

<g id="conclusiones"><rect x="258" y="570" width="56" height="28" class="or"/><text class="m z75 b"><tspan x="286" y="578.5">Conclusiones</tspan><tspan x="286" y="587">orales</tspan><tspan x="286" y="595.5">(433)</tspan></text></g>
<g id="vista-sentencia"><rect x="271" y="600" width="30" height="17" fill="#fff"/><text class="m z6"><tspan x="286" y="606.5">Vista para</tspan><tspan x="286" y="614.5">Sentencia</tspan></text></g>
<g id="partes-formulan"><rect x="322" y="571" width="57" height="27" rx="4" class="ly"/><text class="m z6"><tspan x="350.5" y="582">Las partes formulan</tspan><tspan x="350.5" y="590">oralmente</tspan></text></g>
<g id="ojo-nuevos"><rect x="319" y="607" width="63" height="20" rx="3" class="ly"/><text class="m z45"><tspan x="350.5" y="613"><tspan class="r b">OJO:</tspan> NO se puede aportar</tspan><tspan x="350.5" y="618.5">hechos nuevos ni modificar</tspan><tspan x="350.5" y="624">las pretensiones.</tspan></text></g>
<g id="hechos"><rect x="397" y="588" width="168" height="12" rx="3" class="ly"/><text class="m z4"><tspan x="481" y="593">HECHOS. Valoran el resultado probatorio en relación con los hechos: admitido,</tspan><tspan x="481" y="598">probado o incierto.</tspan></text></g>
<g id="arg"><rect x="397" y="600" width="168" height="12" rx="3" class="ly"/><text class="m z4"><tspan x="481" y="605">ARG. J. Hacen un informe final sobre los argumentos jurídicos aplicables a sus</tspan><tspan x="481" y="610">pretensiones</tspan></text></g>

<g id="excepcional"><rect x="77" y="588" width="165" height="23" rx="4" class="lg"/><text class="m z45"><tspan x="159.5" y="594">EXCEPCIONAL: (previo parte) <tspan class="u">auto</tspan> que acredita nueva prueba</tspan><tspan x="159.5" y="599">sobre hechos ya alegados.</tspan><tspan x="159.5" y="604">Sólo ante libros o se les pide por <tspan class="u">circunstancias de causa cita, no</tspan></tspan><tspan x="159.5" y="609" class="u">dependientes de las partes y si ya justifican. Nueva.</tspan></text></g>
<g id="plazo-diligencias"><rect x="77" y="612" width="165" height="20" rx="4" class="lg"/><text class="m z45"><tspan x="159.5" y="618">Plazo: dentro del plazo para dictar sentencia (20 días).</tspan><tspan x="159.5" y="623.7">Interrupción: Se volverá a computar al presentar las partes escritos</tspan><tspan x="159.5" y="629.4">valorando el resultado de las diligencias probatorias finales.</tspan></text></g>
<g id="limites"><rect x="17" y="588" width="56" height="45" rx="5" class="yy"/><text class="m z4"><tspan x="45" y="594">Límites cosa juzgada.</tspan><tspan x="45" y="599">Sólo si hay:</tspan><tspan x="45" y="604">-Identidad subjetiva</tspan><tspan x="45" y="609">(partes, herederos y</tspan><tspan x="45" y="614">causahabientes).</tspan><tspan x="45" y="619">-Identidad objetiva (objeto</tspan><tspan x="45" y="624">litigioso: petitum + causa</tspan><tspan x="45" y="629">de pedir).</tspan></text></g>
<g id="autoridad-cj"><rect x="13" y="635" width="76" height="67" rx="6" class="yy"/><text class="z4"><tspan x="15" y="641">Tienen autoridad de C.J.:</tspan><tspan x="15" y="646.3">-Resoluciones de fin proceso (formal)</tspan><tspan x="15" y="651.6">-Sentencias de fondo (material)</tspan><tspan x="15" y="656.9">-Proc. sumarios: C.J sobre lo</tspan><tspan x="15" y="662.2">debatido o que pudo ser</tspan><tspan x="15" y="667.5">debatido.</tspan><tspan x="15" y="672.8">-Cautelares: si se mantienen</tspan><tspan x="15" y="678.1">circunstancias.</tspan><tspan x="15" y="683.4">-Auto sobreseimiento (no firme).</tspan><tspan x="15" y="688.7">C.J del motivo que lo fundamenta.</tspan><tspan x="15" y="694">Cabe proceso posterior si se</tspan><tspan x="15" y="699.3">subsana causa del sobreseimiento.</tspan></text></g>
<g id="cj-material"><rect x="89" y="635" width="99" height="28" rx="5" class="yy"/><text class="m z45"><tspan x="138.5" y="641">Cosa juzgada material (ad extra): procesos</tspan><tspan x="138.5" y="646.2">posteriores se ven vinculados por lo</tspan><tspan x="138.5" y="651.4">sentenciado.</tspan><tspan x="138.5" y="656.6">Efecto positivo (prejudicial) + negativo (no bis</tspan><tspan x="138.5" y="661.8">in idem).</tspan></text></g>
<g id="cj-formal"><rect x="92" y="667" width="96" height="29" rx="5" class="yy"/><text class="m z45"><tspan x="140" y="673.5">Cosa juzgada formal (ad intra). La</tspan><tspan x="140" y="678.7">resolución es invariable para el tribunal,</tspan><tspan x="140" y="683.9">vinculante a las partes y no puede ser</tspan><tspan x="140" y="689.1">impugnada (no cabe recurso, firmes por</tspan><tspan x="140" y="694.3">haber pasado el plazo).</tspan></text></g>
<g id="cosa-juzgada"><rect x="193" y="650" width="47" height="29" class="yy"/><rect x="196" y="653" width="41" height="23" fill="none" stroke="#36393d" stroke-width=".5"/><path d="M193,650L196,653M240,650L237,653M193,679L196,676M240,679L237,676" stroke="#36393d" stroke-width=".5"/><text class="m z75 b"><tspan x="216.5" y="667.5">Cosa juzgada</tspan></text></g>

<g id="diligencias-finales"><rect x="257" y="635" width="57" height="29" class="lg"/><text class="m z75 b"><tspan x="285.5" y="647">Diligencias</tspan><tspan x="285.5" y="656">finales</tspan></text></g>
<g id="actuaciones-probatorias"><rect x="243" y="669" width="85" height="24" class="lg"/><path d="M249,669V693M322,669V693" stroke="#82b366" class="bar"/><text class="m z45 i"><tspan x="285.5" y="675.5">Actuaciones probatorias que</tspan><tspan x="285.5" y="681.5">puede acordar el tribunal (ex oficio)</tspan><tspan x="285.5" y="687.5">a instancia de parte.</tspan></text></g>
<g id="pruebas-que"><rect x="331" y="635" width="74" height="53" rx="8" class="lg"/><text class="z4"><tspan x="368" y="641" text-anchor="middle">Pruebas que:</tspan><tspan x="334" y="647.2" text-anchor="start">-No pudieron ser propuestas en</tspan><tspan x="334" y="653.2">tiempo y forma.</tspan><tspan x="334" y="659.2">-No pudieron practicarse</tspan><tspan x="334" y="665.2">(admitidas) por causas no</tspan><tspan x="334" y="671.2">controlables por las partes.</tspan><tspan x="334" y="677.2">-Hechos nuevos o de nueva</tspan><tspan x="334" y="683.2">noticia.</tspan></text></g>

<g id="sentencia"><rect x="258" y="703" width="56" height="28" class="gb"/><text class="m z9 b"><tspan x="286" y="720">Sentencia</tspan></text></g>
<g id="medios-impugnacion"><rect x="337" y="698" width="56" height="42" class="oo" stroke-dasharray="2 1"/><text class="m z8 b"><tspan x="365" y="716">Medios de</tspan><tspan x="365" y="726">impugnación</tspan></text></g>
<g id="acto-procesal"><rect x="242" y="738" width="90" height="35" class="gb" stroke-width="1.2"/><rect x="243.5" y="739.5" width="87" height="32" fill="none" stroke="#23445d" stroke-width=".4"/><text class="m z45 i"><tspan x="287" y="744.5">Acto procesal del Juez/tribunal donde se</tspan><tspan x="287" y="750.5">resuelve motivadamente entre la</tspan><tspan x="287" y="756.5">estimación/desestimación total/parcial de</tspan><tspan x="287" y="762.5">las pretensiones presentadas por las</tspan><tspan x="287" y="768.5">partes aplicando el ordenamiento.</tspan></text></g>
<g id="requisitos-sentencia"><rect x="341" y="763" width="49" height="19" class="gb"/><text class="m z55"><tspan x="365.5" y="770.5">Requisitos de la</tspan><tspan x="365.5" y="778">sentencia (4)</tspan></text></g>
<g id="costas"><rect x="180" y="748" width="57" height="21" class="gb"/><text class="m z6"><tspan x="208.5" y="756">Costas procesales</tspan><tspan x="208.5" y="765" class="r b">(Ojito para test)</tspan></text></g>
<g id="tasacion"><rect x="174" y="698" width="57" height="42" rx="5" class="gb"/><text class="m z3"><tspan x="202.5" y="703.5">Si condena en costas firme y tasación</tspan><tspan x="202.5" y="708">de costas y no paga: pago por vía</tspan><tspan x="202.5" y="712.5">de apremio.</tspan><tspan x="202.5" y="717">Tasación: LAJ (minuta de</tspan><tspan x="202.5" y="721.5">honorarios + derechos). Se da</tspan><tspan x="202.5" y="726">traslado 10 días para impugnar</tspan><tspan x="202.5" y="730.5">por indebidas o excesivas. LAJ determina</tspan><tspan x="202.5" y="735">importe por decreto (recurrible).</tspan></text></g>
<g id="ojo-costas"><rect x="17" y="703" width="153" height="23" rx="5" class="gb"/><text class="m z45"><tspan x="93.5" y="708.5"><tspan class="r b">OJO.</tspan> Sin limitación de cuantía fija. Sólo hay obligación de pagar a</tspan><tspan x="93.5" y="713.7">profesionales que no cobran arancel, hasta 1/3 de la cuantía del</tspan><tspan x="93.5" y="718.9">proceso por cada litigante que haya obtenido pronunciamiento.</tspan><tspan x="93.5" y="724.1">(Inestimables = 18.000€)</tspan></text></g>
<g id="condena-costas"><rect x="17" y="727" width="153" height="48" class="gb"/><text class="z5"><tspan x="93.5" y="734.5" text-anchor="middle">Condena a costas: regla del vencimiento</tspan><tspan x="19.5" y="741">-Procesos declarativos 1ª instancia, a quien haya visto rechazadas</tspan><tspan x="19.5" y="747.5">todas sus pretensiones (Salvo que haya serias dudas de hecho</tspan><tspan x="19.5" y="754">o derecho)</tspan><tspan x="19.5" y="760.5">-Si estimación parcial: Cada parte abona las costas causadas a</tspan><tspan x="19.5" y="767">su instancia + comunes por mitad (salvo que haya litigado con</tspan><tspan x="19.5" y="773.5">temeridad, a él)</tspan></text></g>
<g id="sajg"><rect x="17" y="779" width="153" height="14" rx="4" class="gb"/><text class="m z4"><tspan x="93.5" y="783.5">Salvo SAJG: cada parte las causadas a su instancia y comunes por mitad</tspan><tspan x="93.5" y="787.5">(defensa de oficio). Provisión de fondos al procurador (adelanto). Si el SAJG</tspan><tspan x="93.5" y="791.5">deviene a mejor fortuna en 3 años, hay pago.</tspan></text></g>
<g id="autora"><text x="286" y="790" class="m z6 i" style="fill:#555">ELISA MILLÁN LÓPEZ</text></g>

<g id="recursos-ordinarios"><rect x="408" y="613" width="57" height="17" class="oo"/><text class="m z6"><tspan x="436.5" y="624">Recursos ordinarios</tspan></text></g>
<g id="reposicion"><rect x="478" y="617" width="30" height="10" rx="2" class="oo" stroke="#d79b00"/><text class="m z4"><tspan x="493" y="623.5">Reposición</tspan></text></g>
<g id="reposicion-detalle"><rect x="513" y="604" width="52" height="41" rx="5" class="oo" stroke="#d79b00"/><text class="m z4"><tspan x="539" y="609.5">Resoluciones no</tspan><tspan x="539" y="614.2">definitivas.</tspan><tspan x="539" y="618.9">(Diligencias ordenación no</tspan><tspan x="539" y="623.6">definitivas, autos y</tspan><tspan x="539" y="628.3">decretos no definitivos).</tspan><tspan x="539" y="633">Contra auto o recurrible.</tspan><tspan x="539" y="637.7">Recurso previo a</tspan><tspan x="539" y="642.4">revisión.</tspan></text></g>
<g id="cabe-apelacion"><rect x="408" y="633" width="57" height="49" rx="6" class="gb"/><text class="m z4"><tspan x="436.5" y="639">Cabe en apelación, recurso</tspan><tspan x="436.5" y="643.6">adhesivo, por infracción</tspan><tspan x="436.5" y="648.2">procesal o casación. Regla</tspan><tspan x="436.5" y="652.8">del vencimiento.</tspan><tspan x="436.5" y="657.4">-Requisitos de los motivos,</tspan><tspan x="436.5" y="662">sus pretensiones salvo</tspan><tspan x="436.5" y="666.6">dudas.</tspan><tspan x="436.5" y="671.2">-Si se estima</tspan><tspan x="436.5" y="675.8">total/parcialmente el recurso,</tspan><tspan x="436.5" y="680.4">no se condena a ninguno.</tspan></text></g>
<g id="revision"><rect x="478" y="651" width="30" height="11" rx="2" class="oo" stroke="#d79b00"/><text class="m z4"><tspan x="493" y="658">Revisión</tspan></text></g>
<g id="revision-detalle"><rect x="514" y="648" width="51" height="30" rx="5" class="oo" stroke="#d79b00"/><text class="m z4"><tspan x="539.5" y="653">Decretos LAJ fin a</tspan><tspan x="539.5" y="657.2">procedimiento o impiden</tspan><tspan x="539.5" y="661.4">continuar. Cabe revisión.</tspan><tspan x="539.5" y="665.6">No suspensivo. Contra</tspan><tspan x="539.5" y="669.8">auto que resuelva:</tspan><tspan x="539.5" y="674">apelación si pone fin a</tspan><tspan x="539.5" y="677.4">proceso.</tspan></text></g>
<g id="apelacion"><rect x="478" y="665" width="30" height="11" rx="2" class="oo" stroke="#d79b00"/><text class="m z4"><tspan x="493" y="672">Apelación</tspan></text></g>
<g id="queja"><rect x="478" y="681" width="30" height="10" rx="2" class="oo" stroke="#d79b00"/><text class="m z4"><tspan x="493" y="687.5">Queja</tspan></text></g>
<g id="queja-detalle"><rect x="514" y="682" width="50" height="20" rx="5" class="oo" stroke="#d79b00"/><text class="m z4"><tspan x="539" y="687.5">Queja porque no me</tspan><tspan x="539" y="691.8">admiten recurso</tspan><tspan x="539" y="696.1">devolutivo (Recurrir</tspan><tspan x="539" y="700.4">AP o TS)</tspan></text></g>
<g id="infraccion-procesal"><rect x="412" y="696" width="57" height="13" rx="4" class="oo" stroke="#d79b00"/><text class="m z4"><tspan x="440.5" y="701.5">Recurso extraordinario</tspan><tspan x="440.5" y="706.5">por infracción procesal</tspan></text></g>
<g id="recursos-extraordinarios"><rect x="408" y="717" width="42" height="16" class="oo"/><text class="m z55"><tspan x="429" y="724">Recursos</tspan><tspan x="429" y="731">extraordinarios</tspan></text></g>
<g id="casacion"><rect x="455" y="719" width="33" height="14" rx="4" class="oo" stroke="#d79b00"/><text class="m z45"><tspan x="471.5" y="727.5">Casación</tspan></text></g>
<g id="liquidez"><rect x="403" y="738" width="157" height="25" rx="6" class="gb"/><text class="m z4"><tspan x="481.5" y="743.5">Liquidez (obligaciones dinerarias).</tspan><tspan x="481.5" y="749">Importe exacto o liquidación con operación aritmética.</tspan><tspan x="481.5" y="754.5">Sólo se admiten las ilíquidas con reservas de liquidación en la ejecución.</tspan><tspan x="481.5" y="760">Pueden incluirse condenas a futuro.</tspan></text></g>
<g id="motivacion"><rect x="403" y="765" width="157" height="28" rx="6" class="gb"/><text class="m z4"><tspan x="481.5" y="770.5">Motivación, exhaustividad y congruencia.</tspan><tspan x="481.5" y="776">Tienen que estar motivadas (120.3 CE), deben ser claras, precisas,</tspan><tspan x="481.5" y="781.5">congruentes con las pretensiones. El tribunal resuelve el caso sin</tspan><tspan x="481.5" y="787">apartarse de la causa de pedir, aplicando las normas al caso. Se</tspan><tspan x="481.5" y="792.2">motivan expresando razonamientos fácticos y jurídicos etc.</tspan></text></g>
</svg>
